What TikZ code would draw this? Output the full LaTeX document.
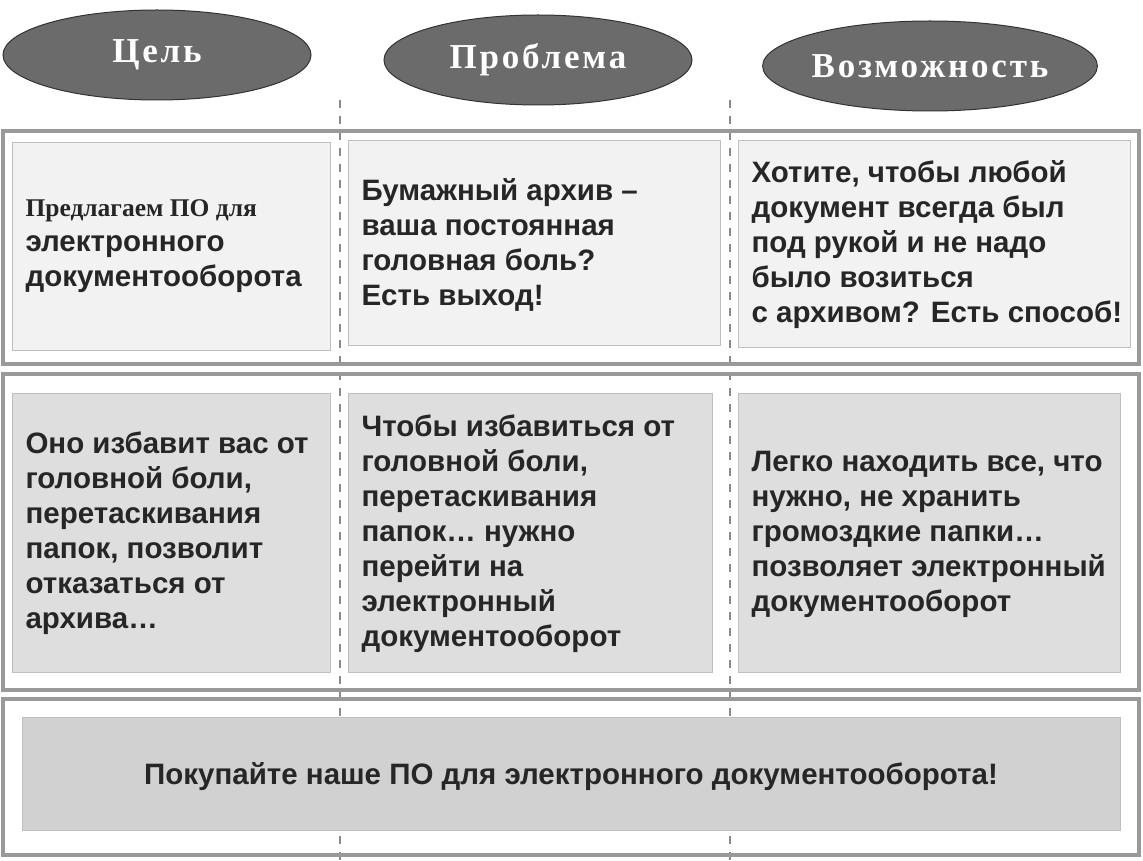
\documentclass[tikz,border=0pt]{standalone}
\usepackage{fontspec}
\setmainfont{Liberation Sans}
\newfontfamily\serifb[LetterSpace=8]{Liberation Serif}
\newfontfamily\serifn{Liberation Serif}
\usetikzlibrary{shapes.geometric}
\begin{document}
\begin{tikzpicture}[x=1pt,y=-1pt,
  oval/.style={ellipse,draw=black!80,line width=1pt,fill=black!58,text=white,inner sep=0pt,font=\serifb\bfseries\fontsize{35}{38}\selectfont,minimum width=308pt,minimum height=90pt},
  frame/.style={draw=black!40,line width=3.5pt},
  cell/.style={draw=black!25,line width=1pt},
  txt/.style={anchor=west,align=left,font=\bfseries\fontsize{29.5}{35}\selectfont,text=black!85}]
\useasboundingbox (0,0) rectangle (1143,861);
\fill[white] (0,0) rectangle (1143,861);
\coordinate (d1t) at (340,100); \coordinate (d1b) at (340,861);
\coordinate (d2t) at (730,100); \coordinate (d2b) at (730,861);
\draw[black!45,line width=2pt,dash pattern=on 8pt off 8pt] (d1t) -- (d1b);
\draw[black!45,line width=2pt,dash pattern=on 8pt off 8pt] (d2t) -- (d2b);
\node[oval] (o1) at (157,55) {Цель};
\node[oval] (o2) at (538,60) {Проблема};
\node[oval] (o3) at (930,66) {Возможность};
\draw[frame] (3,131) rectangle (1139,364);
\draw[frame] (3,374) rectangle (1139,690);
\draw[frame] (3,699) rectangle (1139,855);
\draw[cell,fill=black!5] (12,143) rectangle (330,350);
\draw[cell,fill=black!5] (348,141) rectangle (720,345);
\draw[cell,fill=black!5] (738,141) rectangle (1130,347);
\draw[cell,fill=black!13] (12,393) rectangle (330,672);
\draw[cell,fill=black!13] (348,393) rectangle (712,672);
\draw[cell,fill=black!13] (738,393) rectangle (1120,672);
\draw[cell,fill=black!18] (22,717) rectangle (1120,830);
\node[txt] (t1) at (22,246) {{\serifn\fontsize{25.5}{35}\selectfont Предлагаем ПО для}\\электронного\\документооборота};
\node[txt] (t2) at (358,245) {Бумажный архив –\\ваша постоянная\\головная боль?\\Есть выход!};
\node[txt] (t3) at (748,245) {Хотите, чтобы любой\\документ всегда был\\под рукой и не надо\\было возиться\\с архивом? Есть способ!};
\node[txt] (t4) at (22,533) {Оно избавит вас от\\головной боли,\\перетаскивания\\папок, позволит\\отказаться от\\архива…};
\node[txt] (t5) at (358,534) {Чтобы избавиться от\\головной боли,\\перетаскивания\\папок… нужно\\перейти на\\электронный\\документооборот};
\node[txt] (t6) at (748,534) {Легко находить все, что\\нужно, не хранить\\громоздкие папки…\\позволяет электронный\\документооборот};
\node[txt,anchor=center] (t7) at (571,777) {Покупайте наше ПО для электронного документооборота!};
\end{tikzpicture}
\end{document}
